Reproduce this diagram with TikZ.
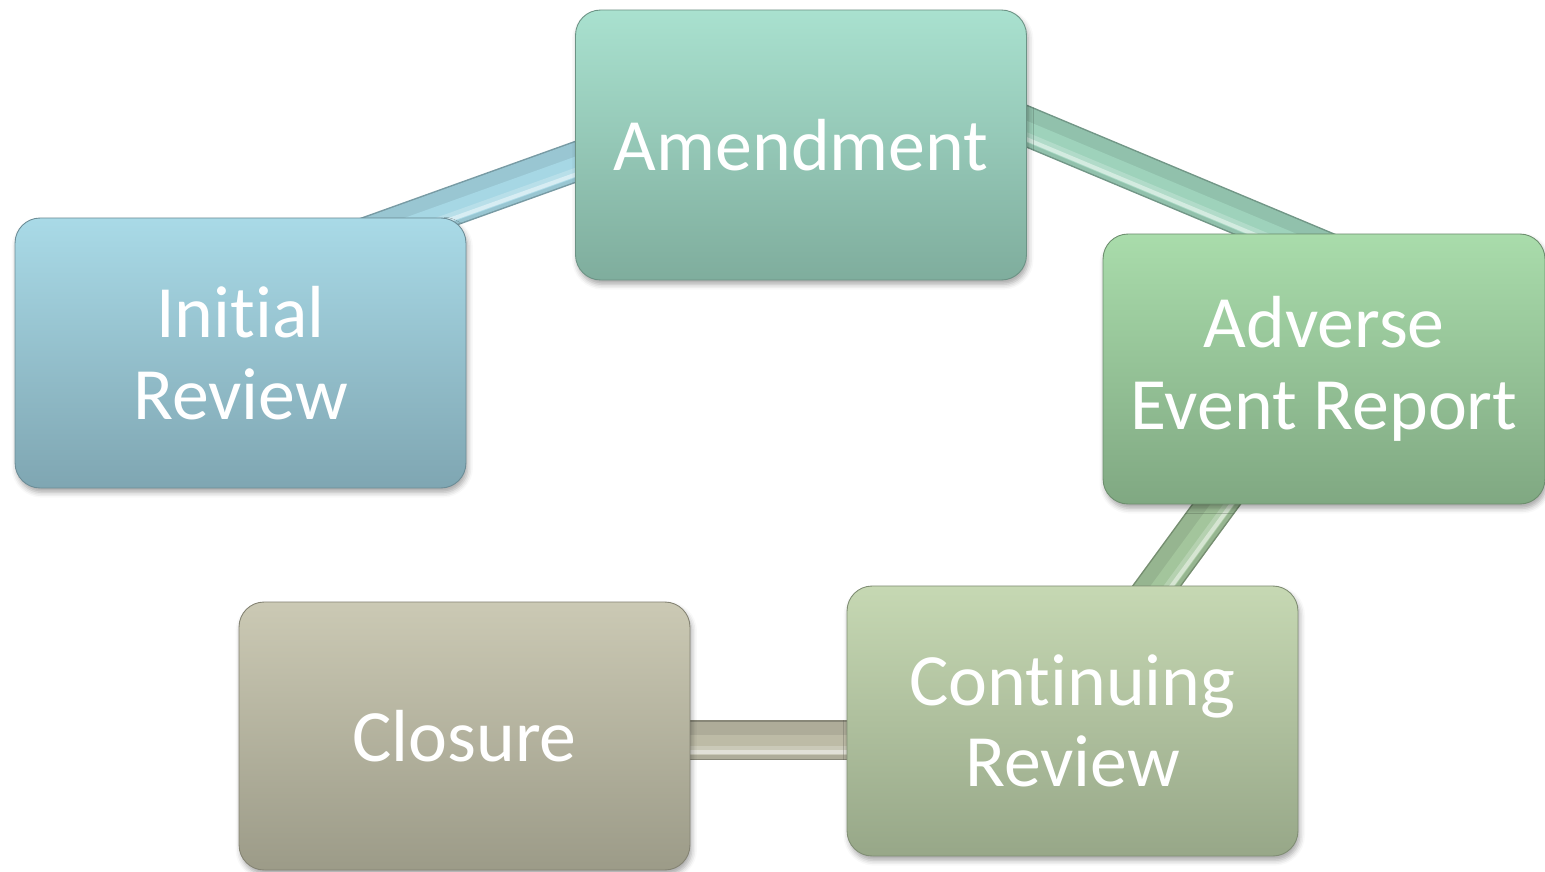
\documentclass[tikz,border=0pt]{standalone}
\usepackage{fontspec}
\setmainfont{Carlito}[Ligatures=NoCommon]
\usetikzlibrary{calc,backgrounds,shadows.blur}

% stage fills (top / bottom of the gradient)
\definecolor{initTop}{HTML}{A9DAE7}
\definecolor{initBot}{HTML}{7FA6B2}
\definecolor{amendTop}{HTML}{A9E1CF}
\definecolor{amendBot}{HTML}{7FAD9D}
\definecolor{advTop}{HTML}{A9DCAB}
\definecolor{advBot}{HTML}{80A882}
\definecolor{contTop}{HTML}{C6D8B3}
\definecolor{contBot}{HTML}{97A788}
\definecolor{closeTop}{HTML}{CBC9B4}
\definecolor{closeBot}{HTML}{9C9B88}
% link bars
\definecolor{barBlue}{HTML}{A6D7E4}
\definecolor{barMint}{HTML}{9ED2BB}
\definecolor{barGreen}{HTML}{A3C59C}
\definecolor{barSand}{HTML}{BDBBA6}

% thick bevelled bar between two coordinates
\newcommand\linkbar[3]{%
  \draw[line width=0.8cm, #3!72!black] (#1) -- (#2);
  \draw[line width=0.74cm, #3!92!black] (#1) -- (#2);
  \draw[line width=0.4cm, #3] ($(#1)!0.1cm!-90:(#2)$) -- ($(#2)!0.1cm!90:(#1)$);
  \draw[line width=0.18cm, #3!80!white] ($(#1)!0.2cm!-90:(#2)$) -- ($(#2)!0.2cm!90:(#1)$);
  \draw[line width=0.08cm, #3!45!white] ($(#1)!0.24cm!-90:(#2)$) -- ($(#2)!0.24cm!90:(#1)$);
}

\begin{document}
\begin{tikzpicture}[
    x=0.02cm, y=-0.02cm,
    stage/.style 2 args={rectangle, rounded corners=0.5cm,
      minimum width=9.02cm, minimum height=5.4cm, inner sep=0pt,
      align=center, text=white, font=\fontsize{42}{46.5}\selectfont,
      top color=#1, bottom color=#2, draw=#2!85!black, line width=0.5pt,
      blur shadow={shadow xshift=1pt, shadow yshift=-2.5pt,
        shadow blur radius=3pt, shadow opacity=35}}
    ]
    \useasboundingbox (0,0) rectangle (1545,872);

    % stages round the cycle
    \node[stage={initTop}{initBot}] (init) at (240.5,353) {Initial\\Review};
    \node[stage={amendTop}{amendBot}] (amend) at (801,145) {Amendment};
    \node[stage={advTop}{advBot}, minimum width=8.84cm] (adverse) at (1324,369) {Adverse\\Event Report};
    \node[stage={contTop}{contBot}] (cont) at (1072.5,721) {Continuing\\Review};
    \node[stage={closeTop}{closeBot}, minimum height=5.36cm] (closure) at (464.5,736) {Closure};

    % bar ends, tucked under the boxes
    \coordinate (b1s) at ($(init.north east)+(-116,25)$);
    \coordinate (b1e) at ($(amend.west)+(25,8)$);
    \coordinate (b2s) at ($(amend.east)+(-27,-30)$);
    \coordinate (b2e) at ($(adverse.north)+(26,28)$);
    \coordinate (b3s) at ($(cont.north)+(70.5,19)$);
    \coordinate (b3e) at ($(adverse.south)+(-90,-24)$);
    \coordinate (b4s) at ($(closure.east)+(-20,4)$);
    \coordinate (b4e) at ($(cont.west)+(23,19)$);

    \begin{scope}[on background layer]
      \linkbar{b1s}{b1e}{barBlue}
      \linkbar{b2s}{b2e}{barMint}
      \linkbar{b3s}{b3e}{barGreen}
      \linkbar{b4s}{b4e}{barSand}
    \end{scope}
\end{tikzpicture}
\end{document}
